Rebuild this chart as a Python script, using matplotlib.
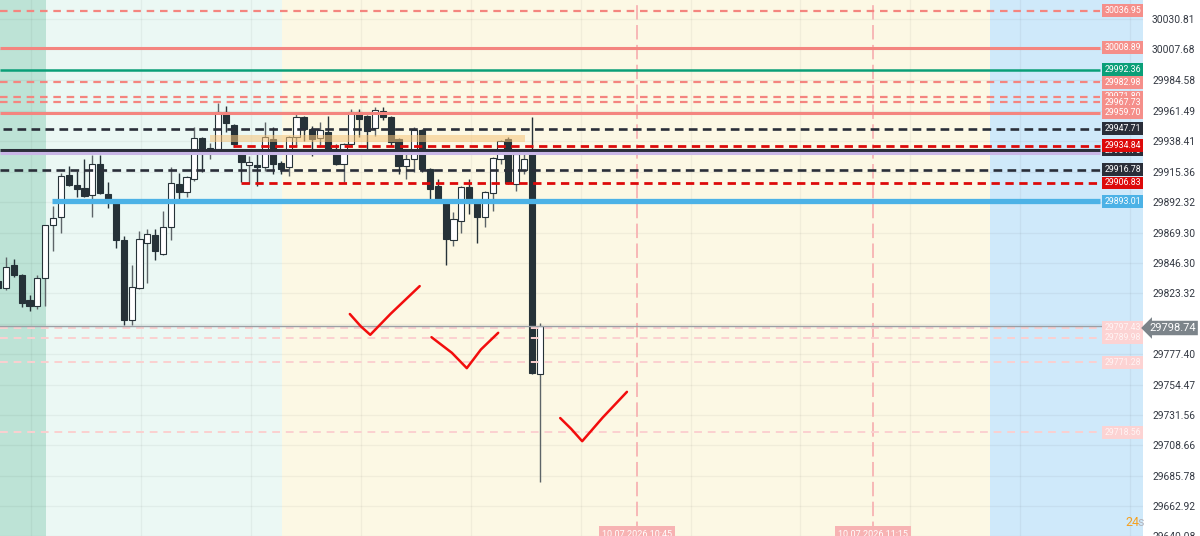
import matplotlib.pyplot as plt
import matplotlib.transforms as mtransforms

plt.rcParams['font.family'] = ['Roboto', 'DejaVu Sans']

# 1-minute candles, index -1 is cut by the left edge
candle_idx = list(range(-1, 69))
opens = [29832.6, 29827.3, 29844.6, 29837.1, 29818.3, 29813.9, 29834.9, 29874.7, 29881.4, 29913.0,
         29905.5, 29903.2, 29897.9, 29921.2, 29898.7, 29893.4, 29863.4, 29803.3, 29827.3, 29861.2,
         29867.2, 29852.9, 29873.2, 29906.2, 29900.2, 29910.0, 29940.7, 29932.5, 29932.5, 29960.3,
         29950.5, 29928.7, 29920.5, 29920.5, 29919.0, 29940.0, 29922.0, 29919.0, 29941.5, 29956.5,
         29947.5, 29940.7, 29945.2, 29928.7, 29921.2, 29936.2, 29960.3, 29957.3, 29948.2, 29961.0,
         29956.5, 29940.0, 29919.7, 29925.0, 29946.7, 29917.5, 29904.7, 29894.2, 29863.4, 29878.4,
         29904.0, 29894.2, 29881.4, 29899.4, 29925.0, 29940.0, 29906.2, 29916.7, 29930.2, 29762.8]
highs = [29837.9, 29850.6, 29849.1, 29837.9, 29822.1, 29837.1, 29875.4, 29889.7, 29914.5, 29919.7,
         29916.0, 29925.0, 29928.0, 29928.0, 29907.7, 29894.9, 29866.4, 29844.6, 29870.9, 29872.4,
         29872.4, 29885.9, 29919.0, 29914.5, 29912.2, 29949.0, 29941.5, 29937.0, 29967.0, 29964.8,
         29951.3, 29932.5, 29927.2, 29932.5, 29952.8, 29949.0, 29923.5, 29942.2, 29960.3, 29957.3,
         29949.7, 29952.8, 29957.3, 29936.2, 29937.0, 29962.5, 29962.5, 29958.0, 29964.0, 29964.0,
         29957.3, 29940.7, 29930.2, 29949.0, 29947.5, 29918.2, 29910.0, 29895.0, 29885.2, 29904.7,
         29910.0, 29895.0, 29901.0, 29926.5, 29939.2, 29941.5, 29929.5, 29928.7, 29956.5, 29801.0]
lows = [29822.9, 29825.8, 29835.6, 29813.1, 29810.1, 29811.6, 29813.9, 29855.1, 29868.7, 29904.7,
        29896.4, 29896.4, 29881.4, 29898.7, 29888.2, 29857.4, 29799.6, 29799.6, 29826.6, 29831.1,
        29848.4, 29852.1, 29863.4, 29894.2, 29896.4, 29908.5, 29915.2, 29925.0, 29931.0, 29945.2,
        29934.0, 29907.7, 29906.2, 29904.7, 29916.0, 29913.7, 29913.7, 29912.2, 29934.7, 29938.5,
        29927.2, 29934.0, 29931.7, 29920.5, 29907.7, 29934.7, 29941.5, 29932.5, 29942.2, 29954.3,
        29934.7, 29913.7, 29910.0, 29915.2, 29915.2, 29893.4, 29892.7, 29844.6, 29858.9, 29868.7,
        29883.7, 29861.2, 29873.9, 29885.9, 29921.2, 29906.2, 29901.0, 29913.7, 29762.8, 29680.9]
closes = [29827.3, 29843.1, 29837.1, 29816.1, 29813.9, 29834.9, 29874.7, 29880.7, 29912.2, 29905.5,
          29902.5, 29897.2, 29921.2, 29899.4, 29894.2, 29863.4, 29803.3, 29828.1, 29864.2, 29867.9,
          29855.1, 29873.9, 29907.0, 29900.2, 29911.5, 29940.7, 29931.7, 29933.2, 29960.3, 29952.0,
          29936.2, 29922.7, 29922.7, 29919.0, 29941.5, 29921.2, 29917.5, 29941.5, 29956.5, 29947.5,
          29940.0, 29946.7, 29932.5, 29921.2, 29936.2, 29960.3, 29955.0, 29946.0, 29961.8, 29956.5,
          29937.7, 29919.7, 29925.0, 29946.7, 29917.5, 29902.5, 29893.4, 29864.2, 29879.9, 29904.0,
          29894.2, 29881.4, 29900.2, 29925.7, 29938.5, 29907.0, 29928.7, 29925.0, 29763.5, 29798.8]

# horizontal levels (drawn in this order, later labels cover earlier ones)
level_prices = [30036.95, 30008.89, 29992.36, 29982.98, 29971.80, 29967.73, 29959.70, 29947.71,
                29931.70, 29929.50, 29934.84, 29916.78, 29906.83, 29893.01,
                29797.43, 29789.98, 29771.28, 29718.56]
level_start = [-0.8, -0.8, -0.8, -0.8, -0.8, -0.8, -0.8, -0.4,
               -0.8, -0.8, 28.9, -0.8, 30.0, 5.9,
               -0.8, -0.8, -0.8, -0.8]
level_kind = ['salmon_d', 'salmon', 'green', 'salmon_d', 'salmon_d', 'salmon_d', 'salmon', 'black_d',
              'black', 'lavender', 'red_d', 'black_d', 'red_d', 'blue',
              'pink_d', 'pink_d', 'pink_d', 'pink_d']

price_ticks = [30030.81, 30007.68, 29984.58, 29961.49, 29938.41, 29915.36, 29892.32, 29869.30,
               29846.30, 29823.32, 29777.40, 29754.47, 29731.56, 29708.66, 29685.78,
               29662.92, 29640.08]
current_price = 29798.74

time_marks = [80.4, 110.4]
time_labels = ['10.07.2026 10:45', '10.07.2026 11:15']

zone_x = (26.0, 66.1)
zone_y = (29937.7, 29943.0)

# hand drawn check marks (candle index, price)
checks = [
    [(43.8, 29807.8), (45.2, 29798.5), (46.4, 29792.1), (49.0, 29808.0), (52.7, 29828.9)],
    [(54.2, 29790.3), (56.8, 29778.5), (58.7, 29766.9), (60.5, 29781.0), (62.7, 29793.6)],
    [(70.6, 29729.2), (72.0, 29721.0), (73.4, 29711.7), (76.0, 29729.5), (79.1, 29749.0)],
]

styles = {
    'salmon':   dict(color='#f4857f', lw=2.2, ls='-', box='#f58f8a', txt='white'),
    'salmon_d': dict(color='#f4857f', lw=1.6, ls=(0, (3.4, 2.6)), box='#f58f8a', txt='white'),
    'green':    dict(color='#0a9f78', lw=1.8, ls='-', box='#0a9f78', txt='white'),
    'black':    dict(color='#2a2e39', lw=2.2, ls='-', box='#2a2e39', txt='white'),
    'black_d':  dict(color='#2a2e39', lw=1.9, ls=(0, (3.3, 2.0)), box='#2a2e39', txt='white'),
    'lavender': dict(color='#c8b6e6', lw=2.2, ls='-', box=None, txt=None),
    'red_d':    dict(color='#dd0a0a', lw=2.0, ls=(0, (3.0, 2.0)), box='#dd0a0a', txt='white'),
    'blue':     dict(color='#4cb2e6', lw=3.8, ls='-', box='#4cb2e6', txt='white'),
    'pink_d':   dict(color='#fbd0d0', lw=1.4, ls=(0, (4.0, 3.0)), box='#fcd3d3', txt='#fff4f4'),
}

W, H = 1200, 536
fig = plt.figure(figsize=(W / 100, H / 100), dpi=100)
fig.patch.set_facecolor('white')
ax = fig.add_axes([0, 0, 1143 / W, 1])
x0, x1 = -0.764, 144.84
ax.set_xlim(x0, x1)
ax.set_ylim(29642.65, 30045.08)

# session backgrounds
ax.axvspan(x0, 5.1, color='#bde3d6', lw=0, zorder=0)
ax.axvspan(5.1, 35.16, color='#ebf8f4', lw=0, zorder=0)
ax.axvspan(35.16, 125.35, color='#fcf8e4', lw=0, zorder=0)
ax.axvspan(125.35, x1, color='#cfe9fa', lw=0, zorder=0)

# grid
for gx in [3.2 + 14 * k for k in range(11)]:
    ax.axvline(gx, color='black', alpha=0.045, lw=1, zorder=0.5)
for t in price_ticks + [29800.35]:
    ax.axhline(t, color='black', alpha=0.045, lw=1, zorder=0.5)

# candles
dark = '#263238'
for i, o, h, l, c in zip(candle_idx, opens, highs, lows, closes):
    up = c >= o
    ax.vlines(i, l, h, color='#5d6468' if up else dark, lw=1, zorder=2)
    ax.bar(i, max(abs(c - o), 0.6), bottom=min(o, c), width=0.78,
           color='white' if up else dark, edgecolor=dark, lw=0.8, zorder=2.5)

# zone
ax.fill_between(zone_x, zone_y[0], zone_y[1], color='#f5c47a', alpha=0.55, lw=0, zorder=3)

# time marks
for tx, tl in zip(time_marks, time_labels):
    ax.axvline(tx, color='#f7b3b3', lw=1.3, ls=(0, (8, 3)), zorder=1)
    ax.text(tx, 0.012, tl, transform=ax.get_xaxis_transform(), ha='center', va='top',
            fontsize=6.5, color='white', zorder=6,
            bbox=dict(boxstyle='square,pad=0.35', fc='#f7b3b3', ec='none'))

# levels
line_end = 139.36
lab_tr = mtransforms.blended_transform_factory(ax.transAxes, ax.transData)
for p, s, k in zip(level_prices, level_start, level_kind):
    st = styles[k]
    ax.plot([s, line_end], [p, p], color=st['color'], lw=st['lw'], ls=st['ls'],
            solid_capstyle='butt', zorder=4)
    if st['box']:
        ax.text(1122.5 / 1143, p, f'{p:.2f}', transform=lab_tr, ha='center', va='center',
                fontsize=6.3, color=st['txt'], zorder=7,
                bbox=dict(boxstyle='square,pad=0.22', fc=st['box'], ec='none'))

# current price
ax.axhline(current_price, color='#9a9fa5', lw=1, zorder=4)

# check marks
for ch in checks:
    xs, ys = zip(*ch)
    ax.plot(xs, ys, color='#f20d0d', lw=1.8, solid_capstyle='round',
            solid_joinstyle='round', zorder=5)

# price scale
ax.yaxis.tick_right()
ax.set_yticks(price_ticks)
ax.set_yticklabels([f'{t:.2f}' for t in price_ticks])
ax.tick_params(axis='y', length=0, pad=6.5, labelsize=7.4, labelcolor='#333842')
ax.set_xticks([])
for sp in ax.spines.values():
    sp.set_visible(False)

fig.text(1149 / W, (H - 328) / H, f'{current_price:.2f}', ha='left', va='center',
         fontsize=8, color='white', zorder=10,
         bbox=dict(boxstyle='larrow,pad=0.2', fc='#7c848a', ec='none'))

fig.text(1125 / W, (H - 522) / H, '24', color='#f5a020', fontsize=9, ha='left', va='center')
fig.text(1137 / W, (H - 522) / H, 's', color='#b2b5be', fontsize=9, ha='left', va='center')

fig.savefig('out.png', dpi=100)
